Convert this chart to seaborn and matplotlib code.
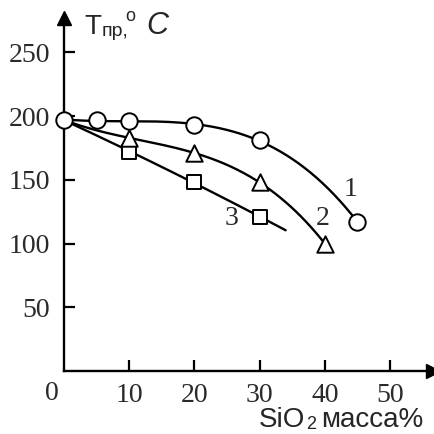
import numpy as np
import pandas as pd
import matplotlib
matplotlib.use("Agg")
import matplotlib.pyplot as plt
import seaborn as sns

# Data
x1 = [0, 5, 10, 20, 30, 45]
y1 = [197, 197, 196, 193, 181, 117]
x2 = [0, 10, 20, 30, 40]
y2 = [197, 183, 171, 148, 100]
x3 = [0, 10, 20, 30]
y3 = [197, 172, 148, 121]
x3_line_end = 34
curve_labels = ["1", "2", "3"]
xticks = [10, 20, 30, 40, 50]
yticks = [50, 100, 150, 200, 250]

sns.set_theme(style="white")
plt.rcParams['font.family'] = ['Liberation Serif', 'DejaVu Serif']

fig = plt.figure(figsize=(4.34, 4.34), dpi=100)
ax = fig.add_axes([64/434, 63/434, 369/434, 353/434])


def smooth(xs, ys, deg, xmax):
    c = np.polyfit(xs, ys, deg)
    xx = np.linspace(xs[0], xmax, 200)
    return xx, np.polyval(c, xx)


curves = []
xx, yy = smooth(x1, y1, 3, x1[-1]); curves.append(pd.DataFrame({"x": xx, "y": yy, "c": "1"}))
xx, yy = smooth(x2, y2, 3, x2[-1]); curves.append(pd.DataFrame({"x": xx, "y": yy, "c": "2"}))
xx, yy = smooth(x3, y3, 2, x3_line_end); curves.append(pd.DataFrame({"x": xx, "y": yy, "c": "3"}))
lines = pd.concat(curves)
sns.lineplot(data=lines, x="x", y="y", units="c", estimator=None, color="black",
             lw=1.7, ax=ax, legend=False, sort=False)

p1 = pd.DataFrame({"x": x1, "y": y1})
p2 = pd.DataFrame({"x": x2[1:], "y": y2[1:]})
p3 = pd.DataFrame({"x": x3[1:], "y": y3[1:]})
sns.scatterplot(data=p3, x="x", y="y", marker="s", s=95, facecolor="white",
                edgecolor="black", linewidth=1.4, ax=ax, zorder=3, clip_on=False)
sns.scatterplot(data=p2, x="x", y="y", marker="^", s=140, facecolor="white",
                edgecolor="black", linewidth=1.4, ax=ax, zorder=4, clip_on=False)
sns.scatterplot(data=p1, x="x", y="y", marker="o", s=140, facecolor="white",
                edgecolor="black", linewidth=1.4, ax=ax, zorder=5, clip_on=False)

ax.set_xlim(0, 56.6)
ax.set_ylim(0, 277)
for s in ["top", "right"]:
    ax.spines[s].set_visible(False)
for s in ["left", "bottom"]:
    ax.spines[s].set_color("black")
    ax.spines[s].set_linewidth(1.7)

ax.set_xticks(xticks)
ax.set_yticks(yticks)
ax.tick_params(axis="both", direction="in", length=8, width=1.6, color="black",
               labelsize=20, labelcolor="#2a2a2a", bottom=True, left=True)
ax.tick_params(axis="x", pad=9)
ax.tick_params(axis="y", pad=10)
ax.set_xlabel("")
ax.set_ylabel("")

# arrows
ax.plot([1], [0], marker=">", ms=10, color="black", transform=ax.transAxes, clip_on=False)
ax.plot([0], [1], marker="^", ms=10, color="black", transform=ax.transAxes, clip_on=False)

fig.text(52/434, 1 - 393/434, "0", ha="center", va="center", fontsize=20, color="#2a2a2a")

sans = ['Liberation Sans', 'DejaVu Sans']
fig.text(84/434, 1 - 34/434, "T", family=sans, fontsize=20, ha="left", va="baseline")
fig.text(102/434, 1 - 36/434, "пр,", family=sans, fontsize=14, ha="left", va="baseline")
fig.text(125/434, 1 - 21/434, "o", family=sans, fontsize=13, ha="left", va="baseline")
fig.text(146/434, 1 - 34/434, "C", family=sans, fontsize=22, style="italic", ha="left", va="baseline")

fig.text(259/434, 1 - 427/434, "SiO", family=sans, fontsize=20, ha="left", va="baseline")
fig.text(306/434, 1 - 429/434, "2", family=sans, fontsize=13, ha="left", va="baseline")
fig.text(321/434, 1 - 427/434, "масса%", family=sans, fontsize=20, ha="left", va="baseline")

lab_pos = [(351, 190), (323, 218), (232, 218)]
for lab, (px, py) in zip(curve_labels, lab_pos):
    fig.text(px/434, 1 - py/434, lab, fontsize=20, ha="center", va="center", color="#2a2a2a")

fig.savefig("out.png", dpi=100)
